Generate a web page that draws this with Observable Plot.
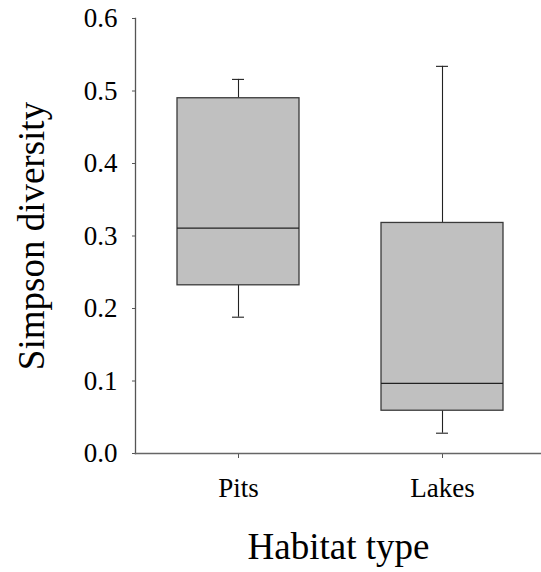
<!DOCTYPE html>
<html><head><meta charset="utf-8">
<script src="https://cdn.jsdelivr.net/npm/d3@7"></script>
<script src="https://cdn.jsdelivr.net/npm/@observablehq/plot@0.6"></script>
<style>body{margin:0;background:#fff;} svg{display:block;} svg text{font-family:"Liberation Serif","Times New Roman",serif;}</style>
</head><body><div id="chart"></div>
<script>
const habitats = ["Pits", "Lakes"];
const whiskerMin = [0.188, 0.028];
const quart1 = [0.232, 0.059];
const medians = [0.311, 0.0966];
const quart3 = [0.490, 0.318];
const whiskerMax = [0.516, 0.534];
const yTicks = [0, 0.1, 0.2, 0.3, 0.4, 0.5, 0.6];

const rows = habitats.map((h, i) => ({
  habitat: h, min: whiskerMin[i], q1: quart1[i], median: medians[i], q3: quart3[i], max: whiskerMax[i]
}));

const font = "Liberation Serif, Times New Roman, serif";
const chart = Plot.plot({
  width: 541, height: 572,
  marginLeft: 135, marginRight: 0, marginTop: 18, marginBottom: 119,
  style: {fontFamily: font, color: "#000", background: "#fff"},
  x: {type: "band", domain: habitats, paddingInner: 0.403, paddingOuter: 0.1945, align: 0.524},
  y: {domain: [0, 0.6]},
  marks: [
    Plot.ruleX(rows, {x: "habitat", y1: "q3", y2: "max", stroke: "#222", strokeWidth: 1.1}),
    Plot.ruleX(rows, {x: "habitat", y1: "min", y2: "q1", stroke: "#222", strokeWidth: 1.1}),
    Plot.tickY(rows, {x: "habitat", y: "max", insetLeft: 55, insetRight: 55, stroke: "#222", strokeWidth: 1.1}),
    Plot.tickY(rows, {x: "habitat", y: "min", insetLeft: 55, insetRight: 55, stroke: "#222", strokeWidth: 1.1}),
    Plot.barY(rows, {x: "habitat", y1: "q1", y2: "q3", fill: "#c0c0c0", stroke: "#3a3a3a", strokeWidth: 1.3}),
    Plot.tickY(rows, {x: "habitat", y: "median", stroke: "#222", strokeWidth: 1.3}),
    Plot.axisY({ticks: yTicks, tickFormat: d3.format(".1f"), tickSize: 3, tickPadding: 15, fontSize: 27, fontFamily: font, label: null, stroke: "#555"}),
    Plot.axisX({tickSize: 5, tickPadding: 19, fontSize: 27, fontFamily: font, label: null, stroke: "#555"}),
    Plot.frame({anchor: "left", stroke: "#555", strokeWidth: 1.3}),
    Plot.frame({anchor: "bottom", stroke: "#666", strokeWidth: 1.6}),
    Plot.text(["Simpson diversity"], {frameAnchor: "left", rotate: -90, textAnchor: "middle", dx: -103, fontSize: 37, fontFamily: font, lineAnchor: "middle", fill: "#000"}),
    Plot.text(["Habitat type"], {frameAnchor: "bottom", textAnchor: "middle", dy: 94, fontSize: 37, fontFamily: font, lineAnchor: "middle", fill: "#000"})
  ]
});
document.getElementById("chart").appendChild(chart);
</script>
</body></html>
